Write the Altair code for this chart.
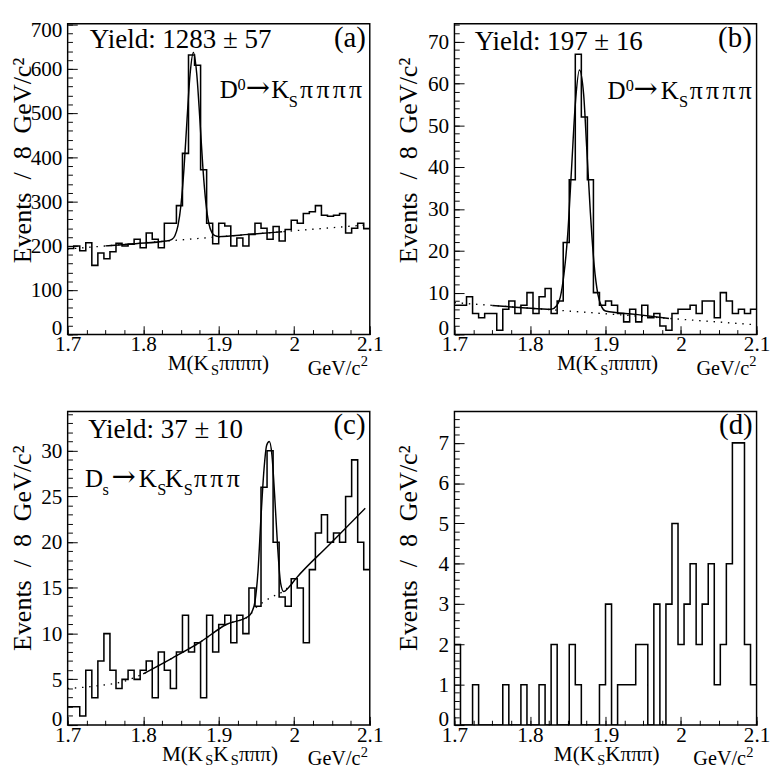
import altair as alt
import pandas as pd

FONT = "Liberation Serif"
LO, HI, BIN_W = 1.7, 2.1, 0.008

# ---- histogram contents (50 bins of 8 MeV from 1.7 to 2.1) ----
counts_a = [194, 200, 189, 207, 156, 184, 171, 187, 206, 200,
            204, 215, 196, 229, 215, 196, 251, 251, 291, 409,
            631, 608, 372, 251, 205, 251, 245, 200, 218, 200,
            226, 251, 240, 215, 244, 211, 237, 258, 251, 273,
            277, 291, 269, 267, 269, 273, 229, 240, 251, 239]
counts_b = [7, 7, 9, 5, 4, 5, 5, 1, 6, 8,
            5, 7, 10, 5, 9, 11, 5, 8, 22, 37,
            67, 52, 37, 10, 7, 8, 7, 5, 3, 6,
            3, 7, 4, 5, 2, 1, 5, 6, 6, 7,
            5, 8, 8, 4, 10, 8, 5, 6, 5, 6]
counts_c = [2, 2, 1, 6, 3, 7, 10, 6, 4, 5,
            6, 5, 6, 7, 3, 8, 6, 4, 8, 12,
            8, 9, 3, 12, 8, 11, 12, 9, 12, 10,
            15, 13, 26, 30, 20, 14, 13, 16, 15, 9,
            17, 21, 23, 20, 21, 20, 25, 29, 20, 17]
counts_d = [2, 0, 0, 1, 0, 0, 0, 0, 1, 0,
            0, 1, 0, 0, 1, 0, 2, 0, 0, 2,
            1, 0, 0, 0, 1, 3, 0, 1, 1, 1,
            2, 2, 0, 3, 0, 3, 5, 2, 3, 4,
            2, 3, 4, 1, 2, 4, 7, 7, 2, 1]

# ---- fit curves ----
fit_a_m = [1.750, 1.790, 1.830, 1.838, 1.842, 1.846, 1.850, 1.854, 1.858, 1.862, 1.8665,
           1.871, 1.875, 1.879, 1.883, 1.887, 1.891, 1.895, 1.900, 1.940, 1.984]
fit_a_v = [200, 205, 211, 215, 223, 245, 292, 374, 484, 586, 637,
           587, 487, 378, 297, 250, 230, 223, 221, 226, 232]
bkg_a_m = [1.700, 2.100]
bkg_a_v = [193, 248]

fit_b_m = [1.750, 1.790, 1.828, 1.835, 1.840, 1.845, 1.850, 1.855, 1.860, 1.8655,
           1.871, 1.875, 1.880, 1.885, 1.890, 1.895, 1.900, 1.940, 1.984]
fit_b_v = [6.9, 6.4, 6.0, 6.8, 8.8, 14.4, 24.0, 39.5, 55.0, 63.2,
           57.5, 45.0, 29.0, 16.5, 9.5, 6.6, 5.6, 4.8, 3.8]
bkg_b_m = [1.700, 2.100]
bkg_b_v = [7.6, 2.3]

fit_c_m = [1.800, 1.838, 1.876, 1.910, 1.9395, 1.944, 1.948, 1.952, 1.956, 1.960, 1.9635,
           1.967, 1.9705, 1.974, 1.978, 1.982, 1.986, 1.992, 2.003, 2.046, 2.094]
fit_c_v = [5.6, 7.3, 9.1, 11.0, 11.9, 12.4, 13.5, 16.8, 22.8, 28.0, 30.6,
           31.0, 29.5, 25.2, 19.5, 15.5, 14.6, 15.0, 16.1, 19.7, 23.7]
bkg_c_m = [1.700, 1.740, 1.775, 1.800, 1.838, 1.876, 1.910, 1.9395, 1.950, 1.960, 1.970, 1.985, 2.003]
bkg_c_v = [4.0, 4.3, 4.8, 5.6, 7.3, 9.1, 11.0, 11.9, 12.9, 13.5, 14.0, 14.6, 16.0]

# ---- tick values ----
x_major = [1.7, 1.8, 1.9, 2.0, 2.1]
x_minor = [round(1.7 + 0.025 * i, 3) for i in range(17)]
ya_major = list(range(0, 701, 100))
ya_minor = list(range(0, 701, 20))
yb_major = list(range(0, 71, 10))
yb_minor = list(range(0, 75, 2))
yc_major = list(range(0, 31, 5))
yc_minor = list(range(0, 35, 1))
yd_major = list(range(0, 8))
yd_minor = [round(0.2 * i, 1) for i in range(39)]

W = 314
H_TOP, H_BOT = 323, 326
LBL = 22
Y_TITLE = "Events \u00a0/ \u00a08 \u00a0GeV/c²"
ONE = pd.DataFrame({"k": [0]})


def hist_df(counts):
    edges = [round(LO + BIN_W * i, 3) for i in range(len(counts) + 1)]
    return pd.DataFrame({"m": edges, "n": list(counts) + [counts[-1]]})


def curve_df(ms, vs):
    return pd.DataFrame({"m": ms, "n": vs})


def txt(s, x, y, size, align="left", font=FONT):
    return alt.Chart(ONE).mark_text(
        text=s, font=font, fontSize=size, align=align, baseline="alphabetic", color="black"
    ).encode(x=alt.value(x), y=alt.value(y))


def tick_axis(orient, vals, size):
    return alt.Axis(orient=orient, values=vals, labels=False, domain=False, grid=False,
                    title=None, ticks=True, tickSize=size, offset=-size,
                    tickColor="black", tickWidth=1)


def panel(counts, ymax, ymaj, ymin, pieces, H, fit=None, bkg=None):
    xs = alt.Scale(domain=[LO, HI], nice=False, zero=False)
    ys = alt.Scale(domain=[0, ymax], nice=False, zero=True)
    h = hist_df(counts)
    x_lab = alt.Axis(orient="bottom", values=x_major, format=".1~f", ticks=False, domain=False,
                     grid=False, title=None, labelFont=FONT, labelFontSize=LBL, labelColor="black",
                     labelPadding=0, labelFlush=False, labelOverlap=False)
    y_lab = alt.Axis(orient="left", values=ymaj, ticks=False, domain=False, grid=False,
                     title=Y_TITLE, titleFont=FONT, titleFontSize=27,
                     titleFontWeight="normal", titleColor="black", titleAngle=-90,
                     titleAlign="right", titleBaseline="bottom", titleX=-33, titleY=35,
                     labelFont=FONT, labelFontSize=LBL, labelColor="black", labelPadding=6,
                     labelOverlap=False, labelFlush=True, labelFlushOffset=5)
    layers = [
        alt.Chart(h).mark_line(strokeOpacity=0).encode(
            x=alt.X("m:Q", scale=xs, axis=tick_axis("bottom", x_minor, 5)),
            y=alt.Y("n:Q", scale=ys, axis=tick_axis("left", ymin, 5))),
        alt.Chart(h).mark_line(strokeOpacity=0).encode(
            x=alt.X("m:Q", scale=xs, axis=tick_axis("bottom", x_major, 9)),
            y=alt.Y("n:Q", scale=ys, axis=tick_axis("left", ymaj, 10))),
    ]
    if bkg is not None:
        layers.append(alt.Chart(curve_df(*bkg)).mark_line(
            color="black", strokeWidth=1.4, strokeDash=[1.5, 6], interpolate="monotone", clip=True
        ).encode(x=alt.X("m:Q", scale=xs, axis=None), y=alt.Y("n:Q", scale=ys, axis=None)))
    if fit is not None:
        layers.append(alt.Chart(curve_df(*fit)).mark_line(
            color="black", strokeWidth=1.5, interpolate="monotone", clip=True
        ).encode(x=alt.X("m:Q", scale=xs, axis=None), y=alt.Y("n:Q", scale=ys, axis=None)))
    layers.append(alt.Chart(h).mark_line(
        interpolate="step-after", color="black", strokeWidth=1.6, clip=True
    ).encode(x=alt.X("m:Q", scale=xs, axis=x_lab), y=alt.Y("n:Q", scale=ys, axis=y_lab)))
    for p in pieces:
        layers.append(txt(*p))
    return alt.layer(*layers).resolve_axis(x="independent", y="independent").properties(
        width=W, height=H)


def decay(parts, y):
    # parts: (text, x, kind)
    out = []
    for t, x, kind in parts:
        if kind == "main":
            out.append((t, x, y, 26))
        elif kind == "pi":
            for i, ch in enumerate(t):
                out.append((ch, x + 17 * i, y, 27))
        elif kind == "sup":
            out.append((t, x, y - 8, 17))
        elif kind == "sub":
            out.append((t, x, y + 9, 17))
        else:
            out.append((t, x, y - 1, 30, "left", "DejaVu Serif"))
    return out


def xtitle(parts, gx, H):
    out = []
    for t, x, sub in parts:
        out.append((t, x, H + (42 if sub else 37), 15 if sub else 22))
    out.append(("GeV/c", gx, H + 42, 21))
    out.append(("2", gx + 55, H + 33, 15))
    return out


pieces_a = ([("Yield: 1283 ± 57", 23, 25.5, 28), ("(a)", 310, 24, 30, "right")]
            + decay([("D", 158.2, "main"), ("0", 176.5, "sup"), ("→", 185, "arrow"),
                     ("K", 211.5, "main"), ("S", 229.8, "sub"), ("ππππ", 241.5, "pi")], 77.3)
            + xtitle([("M(K", 104, False), ("S", 149, True), ("ππππ)", 157.5, False)], 249.5, H_TOP))
pieces_b = ([("Yield: 197 ± 16", 21, 27, 28), ("(b)", 309, 24, 30, "right")]
            + decay([("D", 159, "main"), ("0", 178, "sup"), ("→", 186, "arrow"),
                     ("K", 214.5, "main"), ("S", 233.5, "sub"), ("ππππ", 244.5, "pi")], 78)
            + xtitle([("M(K", 106.5, False), ("S", 151.5, True), ("ππππ)", 160, False)], 251.5, H_TOP))
pieces_c = ([("Yield: 37 ± 10", 21.3, 27.3, 28), ("(c)", 309.6, 23.3, 30, "right")]
            + decay([("D", 18, "main"), ("s", 36.3, "sub"), ("→", 45.5, "arrow"),
                     ("K", 74, "main"), ("S", 93, "sub"), ("K", 101.3, "main"),
                     ("S", 120.6, "sub"), ("πππ", 131.3, "pi")], 78.3)
            + xtitle([("M(K", 98, False), ("S", 143, True), ("K", 151.3, False),
                      ("S", 169.6, True), ("πππ)", 178, False)], 249.6, H_BOT))
pieces_d = ([("(d)", 310, 23, 30, "right")]
            + xtitle([("M(K", 103.3, False), ("S", 148.3, True), ("Kπππ)", 156.7, False)], 248.3, H_BOT))

pa = panel(counts_a, 702, ya_major, ya_minor, pieces_a, H_TOP, (fit_a_m, fit_a_v), (bkg_a_m, bkg_a_v))
pb = panel(counts_b, 74.3, yb_major, yb_minor, pieces_b, H_TOP, (fit_b_m, fit_b_v), (bkg_b_m, bkg_b_v))
pc = panel(counts_c, 34.3, yc_major, yc_minor, pieces_c, H_BOT, (fit_c_m, fit_c_v), (bkg_c_m, bkg_c_v))
pd_ = panel(counts_d, 7.78, yd_major, yd_minor, pieces_d, H_BOT)

chart = alt.concat(pa, pb, pc, pd_, columns=2, spacing={"row": 80, "column": 88},
                   bounds="flush").properties(
    padding={"left": 0, "top": -5, "right": 0, "bottom": 0}, background="white"
).configure_view(stroke="black", strokeWidth=1.5)

chart.save("out.html", embed_options={"renderer": "svg", "actions": False})
